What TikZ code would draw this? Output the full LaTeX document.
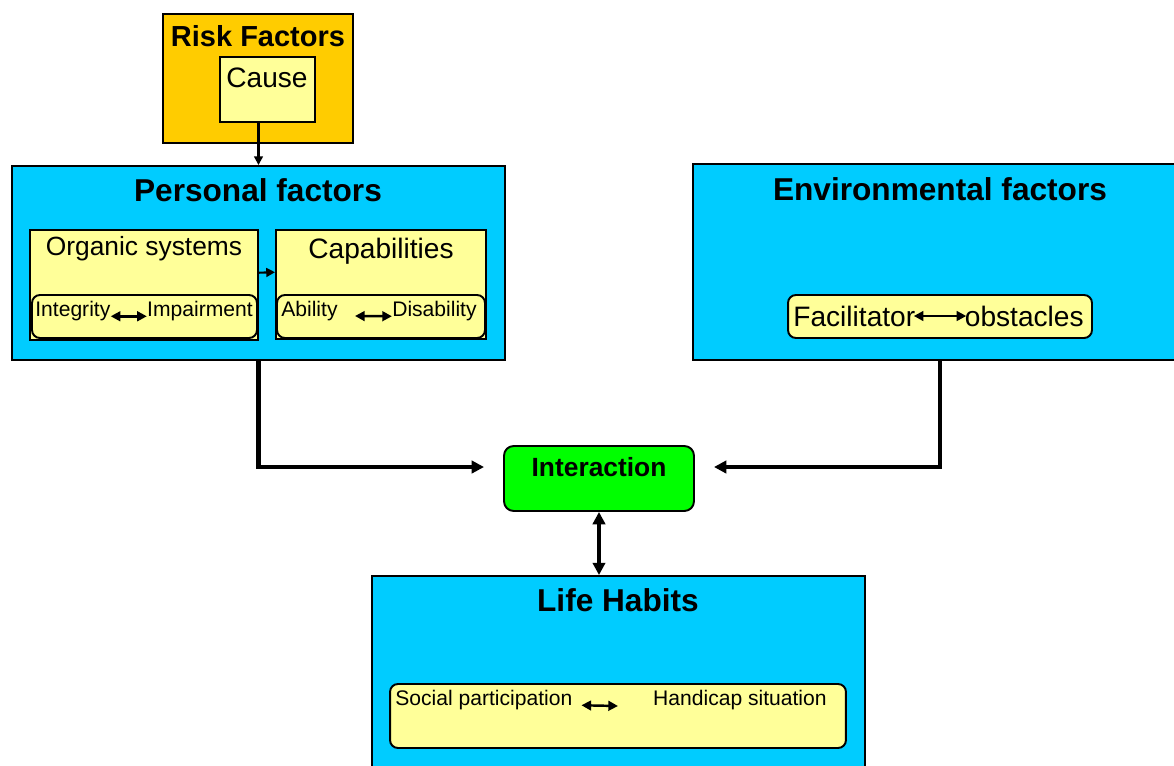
\documentclass[tikz,border=0pt]{standalone}
\usepackage{fontspec}
\setmainfont{Liberation Sans}
\usetikzlibrary{arrows.meta}
\definecolor{riskorange}{HTML}{FFCC00}
\definecolor{factorblue}{HTML}{00CCFF}
\definecolor{paleyellow}{HTML}{FFFF99}
\definecolor{brightgreen}{HTML}{00FF00}
\begin{document}
\begin{tikzpicture}[x=0.02cm, y=-0.02cm,
    box/.style={draw, line width=1.1pt, inner sep=0pt},
    riskbox/.style={box, fill=riskorange},
    bluebox/.style={box, fill=factorblue},
    yellowbox/.style={box, fill=paleyellow},
    pillbox/.style={box, fill=paleyellow, rounded corners=4.5pt},
    greenbox/.style={box, fill=brightgreen, rounded corners=5.5pt},
    title/.style={inner sep=0pt, font=\fontsize{18}{20}\selectfont\bfseries},
    label/.style={inner sep=0pt, font=\fontsize{16}{18}\selectfont},
    small/.style={inner sep=0pt, font=\fontsize{12}{14}\selectfont},
    thin/.style={line width=1.2pt, -{Triangle[length=5pt,width=5pt]}},
    thick/.style={line width=2.4pt, -{Triangle[length=7pt,width=7pt]}},
    twoway/.style={line width=1.4pt, {Triangle[length=5.5pt,width=5.5pt]}-{Triangle[length=5.5pt,width=5.5pt]}}]
        \useasboundingbox (0,0) rectangle (1174,765);

        \node[riskbox, minimum width=3.8cm, minimum height=2.58cm] (risk) at (258,78.5) {};
        \node[yellowbox, minimum width=1.9cm, minimum height=1.3cm] (cause) at (267.5,89.5) {};
        \node[bluebox, minimum width=9.86cm, minimum height=3.88cm] (pers) at (258.5,263) {};
        \node[yellowbox, minimum width=4.56cm, minimum height=2.2cm] (organ) at (144,285) {};
        \node[pillbox, minimum width=4.5cm, minimum height=0.86cm] (integpill) at (144.5,316.5) {};
        \node[yellowbox, minimum width=4.2cm, minimum height=2.18cm] (capab) at (381,284.5) {};
        \node[pillbox, minimum width=4.16cm, minimum height=0.86cm] (abilpill) at (381,316.5) {};
        \node[bluebox, minimum width=9.88cm, minimum height=3.92cm] (env) at (940,262) {};
        \node[pillbox, minimum width=6.08cm, minimum height=0.86cm] (facilpill) at (940,316.5) {};
        \node[greenbox, minimum width=3.8cm, minimum height=1.3cm] (inter) at (599,478.5) {};
        \node[bluebox, minimum width=9.86cm, minimum height=4cm] (life) at (618.5,676) {};
        \node[pillbox, minimum width=9.12cm, minimum height=1.28cm] (socialpill) at (618,716) {};

        \node[title, font=\fontsize{16.5}{18}\selectfont\bfseries] (risktitle) at (258,36) {Risk Factors};
        \node[label] (causetext) at (267,78) {Cause};
        \node[title] (perstitle) at (258,190) {Personal factors};
        \node[label, font=\fontsize{15}{17}\selectfont] (organtext) at (144,249) {Organic systems};
        \node[label] (capabtext) at (381,251) {Capabilities};
        \node[small, anchor=west] (integ) at (35,311) {Integrity};
        \node[small, anchor=east] (impair) at (253,311) {Impairment};
        \node[small, anchor=west] (abil) at (281,311) {Ability};
        \node[small, anchor=east] (disabil) at (477,311) {Disability};
        \node[title] (envtitle) at (940,189) {Environmental factors};
        \node[label, anchor=west] (facil) at (793,316) {Facilitator};
        \node[label, anchor=east] (obst) at (1084,316) {obstacles};
        \node[title, font=\fontsize{15}{17}\selectfont\bfseries] (intertext) at (599,467) {Interaction};
        \node[title] (lifetitle) at (618,600) {Life Habits};
        \node[small, anchor=west] (social) at (395,700) {Social participation};
        \node[small, anchor=east] (handicap) at (827,700) {Handicap situation};

        \coordinate (abilend) at (355,316);
        \coordinate (socialend) at (618,706);
        \coordinate (persend) at (484,467);
        \coordinate (envend) at (714,467);

        \draw[thin] (cause.south -| pers.north) -- (pers.north);
        \draw[thin] ([yshift=7pt]organ.east) -- ([yshift=7pt]capab.west);
        \draw[twoway] ([yshift=-3pt]integ.east) -- ([yshift=-3pt]impair.west);
        \draw[twoway] (abilend) -- ([yshift=-3pt]disabil.west);
        \draw[twoway, shorten <=-1pt, shorten >=-1pt] (facil.east) -- (obst.west);
        \draw[twoway] ([xshift=5pt,yshift=-3pt]social.east) -- (socialend);
        \draw[thick] (pers.south) |- (persend);
        \draw[thick] (env.south -| envtitle.south) |- (envend);
        \draw[line width=2.4pt, {Triangle[length=7pt,width=7pt]}-{Triangle[length=7pt,width=7pt]}] (inter.south) -- (life.north -| inter.south);

    \end{tikzpicture}
\end{document}
